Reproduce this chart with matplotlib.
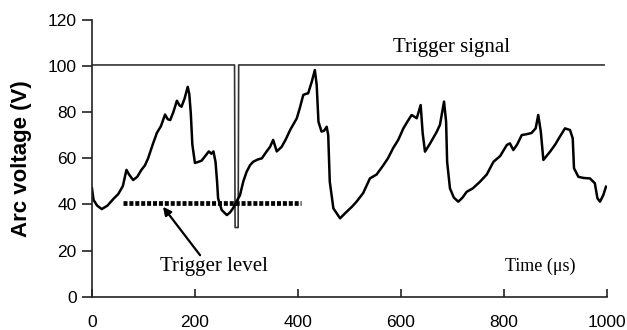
import numpy as np
import matplotlib.pyplot as plt

# arc voltage trace
t = [0, 3, 10, 19, 30, 42, 51, 60, 67, 72, 80, 88, 96, 103, 109, 118, 126, 134,
     142, 147, 152, 158, 165, 170, 174, 180, 186, 189, 192, 195, 200, 207, 213,
     220, 227, 232, 236, 240, 243, 245, 252, 262, 268, 274, 280, 287.5, 294,
     300.5, 307, 313, 322, 330, 339, 346, 352, 359, 368.5, 376, 385, 392, 398,
     404, 410.5, 416, 420, 427, 433, 436.6, 440, 446, 451, 456, 459, 462, 469,
     482, 495, 505, 514, 527, 540, 553, 566, 575, 585, 595, 605, 613, 621, 631,
     638.6, 642.5, 647, 657, 670, 676, 684, 688, 690, 695.5, 703, 711.7, 720,
     728, 740, 754, 767, 780, 793, 806, 812, 818.6, 826, 835, 845, 854, 862,
     867, 872, 877, 890, 900, 909, 919, 928.7, 934, 936.5, 945, 955, 967.5,
     977, 982, 987, 993.5, 998.6]
v = [47, 42, 39.5, 38, 39.5, 42.5, 44.5, 48, 55, 53, 50.6, 52, 55, 57, 60, 66,
     71, 74, 79, 77, 76.6, 80, 85, 83, 82.4, 86, 91, 88, 79.5, 66, 58, 58.5, 59,
     61, 63, 62, 63, 58.5, 50, 42.7, 37.6, 35.4, 36.5, 38.3, 41, 44, 50, 54.2,
     57, 58.5, 59.5, 60, 62.9, 65, 68, 63, 65, 68, 72.3, 75, 77.4, 82, 87.5, 88,
     88.2, 93.2, 98.3, 91.8, 75.9, 71.6, 72, 73.7, 70, 49.9, 38.3, 34, 36.9, 39,
     41.2, 45, 51.3, 53, 57, 60, 64.4, 68, 73, 76, 78.8, 77.4, 83.1, 70.9, 62.9,
     66.5, 71.6, 74.5, 84.6, 75.9, 58.5, 47, 43, 41.2, 43, 45.5, 47, 49.9, 53,
     58.5, 61, 65.8, 66.5, 63.6, 66, 70.1, 70.5, 71, 73, 78.8, 71.6, 59.3, 62.9,
     66, 69.4, 73, 72.3, 68.7, 55.7, 52, 51.5, 51.3, 49.2, 42.7, 41.2, 44.1,
     47.7]

# trigger signal
t_trig = [0, 277, 278, 284, 285, 995]
v_trig = [100.5, 100.5, 30, 30, 100.5, 100.5]

# trigger level
t_level = [60, 407]
v_level = [40.5, 40.5]

fig = plt.figure(figsize=(6.27, 3.30), dpi=100)
ax = fig.add_axes([0.1467, 0.1009, 0.8209, 0.8385])

ax.plot(t_trig, v_trig, color='#333333', lw=1.2)
ax.plot(t, v, color='black', lw=1.8)
lvl, = ax.plot(t_level, v_level, color='black', lw=3.4, solid_capstyle='butt')
lvl.set_dashes([0.85, 0.4])
lvl.set_dash_capstyle('butt')

ax.annotate('', xy=(138, 39), xytext=(210, 18),
            arrowprops=dict(arrowstyle='-|>', color='black', lw=1.6,
                            mutation_scale=12, shrinkA=0, shrinkB=0))

serif = 'Liberation Serif'
ax.text(237, 13, 'Trigger level', family=serif, fontsize=15, ha='center', va='center')
ax.text(699, 108, 'Trigger signal', family=serif, fontsize=15, ha='center', va='center')
ax.text(871, 13, 'Time (\u03bcs)', family=serif, fontsize=13, ha='center', va='center')

ax.set_xlim(0, 1000)
ax.set_ylim(0, 120)
ax.set_xticks(np.arange(0, 1001, 200))
ax.set_yticks(np.arange(0, 121, 20))
for s in ['top', 'right']:
    ax.spines[s].set_visible(False)
for s in ['left', 'bottom']:
    ax.spines[s].set_linewidth(1.2)
    ax.spines[s].set_color('#222222')

ax.tick_params(axis='y', direction='out', length=7, width=1.2, pad=4,
               labelsize=12.5, colors='#222222', labelcolor='black')
ax.tick_params(axis='x', direction='in', length=6, width=1.2, pad=13,
               labelsize=12.5, colors='#222222', labelcolor='black')
for lab in ax.get_xticklabels() + ax.get_yticklabels():
    lab.set_family('Liberation Sans')

ax.set_ylabel('Arc voltage (V)', family='Liberation Sans', fontweight='bold',
              fontsize=16, labelpad=11)

fig.savefig('out.png', dpi=100)
